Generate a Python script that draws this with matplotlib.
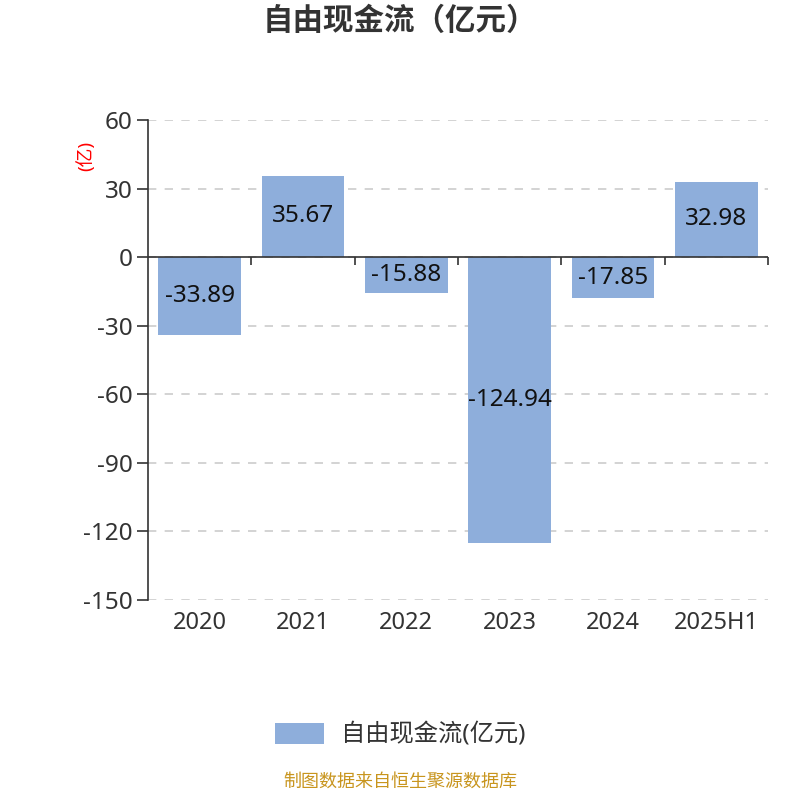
import matplotlib
matplotlib.use("Agg")
import matplotlib.pyplot as plt
from matplotlib.patches import FancyBboxPatch
from matplotlib.legend_handler import HandlerPatch
import numpy as np

categories = ["2020", "2021", "2022", "2023", "2024", "2025H1"]
values = [-33.89, 35.67, -15.88, -124.94, -17.85, 32.98]
yticks = [-150, -120, -90, -60, -30, 0, 30, 60]

plt.rcParams['font.family'] = ['Noto Sans', 'Noto Sans CJK SC', 'DejaVu Sans']

bar_color = "#8eaedb"
text_color = "#333333"

fig = plt.figure(figsize=(8, 8), dpi=100)
ax = fig.add_axes([0.185, 0.25, 0.775, 0.60])

x = np.arange(len(categories))
bars = ax.bar(x, values, width=0.8, color=bar_color, zorder=3, label="自由现金流(亿元)")

for xi, v in zip(x, values):
    ax.text(xi, v / 2, f"{v:.2f}", ha="center", va="center", fontsize=17.5,
            color="#111111", zorder=4)

ax.set_xlim(-0.5, len(categories) - 0.5)
ax.set_ylim(-150, 60)
ax.set_yticks(yticks)
ax.set_yticklabels([str(t) for t in yticks], fontsize=17.5, color=text_color)
ax.set_xticks(x)
ax.set_xticklabels(categories, fontsize=17, color=text_color)
ax.tick_params(axis="x", length=0, pad=8)
ax.tick_params(axis="y", length=8, width=1.2, color=text_color, pad=3)

for s in ["top", "right", "bottom"]:
    ax.spines[s].set_visible(False)
ax.spines["left"].set_color(text_color)
ax.spines["left"].set_linewidth(1.2)

ax.grid(axis="y", linestyle=(0, (5, 5)), color="#cccccc", linewidth=1.2, zorder=0)
ax.axhline(0, color=text_color, linewidth=1.2, zorder=5)
bounds = np.arange(len(categories)) + 0.5
ax.vlines(bounds, -3.5, 0, color=text_color, linewidth=1.2, zorder=5, clip_on=False)

ax.set_ylabel("(亿)", color="red", fontsize=13.5)
ax.yaxis.set_label_coords(-0.085, 0.925)


class RoundHandler(HandlerPatch):
    def create_artists(self, legend, orig_handle, xdescent, ydescent, width, height, fontsize, trans):
        p = FancyBboxPatch((-xdescent + 2, -ydescent + 1), width - 4, height - 2,
                           boxstyle="round,pad=2,rounding_size=4",
                           facecolor=bar_color, edgecolor="none", transform=trans)
        return [p]


fig.text(0.5, 0.972, "自由现金流（亿元）", ha="center", va="center", fontsize=22,
         fontweight="bold", color=text_color)

leg = fig.legend(handles=[bars], labels=["自由现金流(亿元)"], loc="center",
                 bbox_to_anchor=(0.5, 0.081), frameon=False, fontsize=17.5,
                 handlelength=2.0, handleheight=1.0, handletextpad=0.7,
                 handler_map={type(bars[0]): RoundHandler()})
for t in leg.get_texts():
    t.set_color(text_color)

fig.text(0.5, 0.012, "制图数据来自恒生聚源数据库", ha="center", va="bottom",
         fontsize=13, color="#c8951e")

fig.savefig("out.png", dpi=100)
